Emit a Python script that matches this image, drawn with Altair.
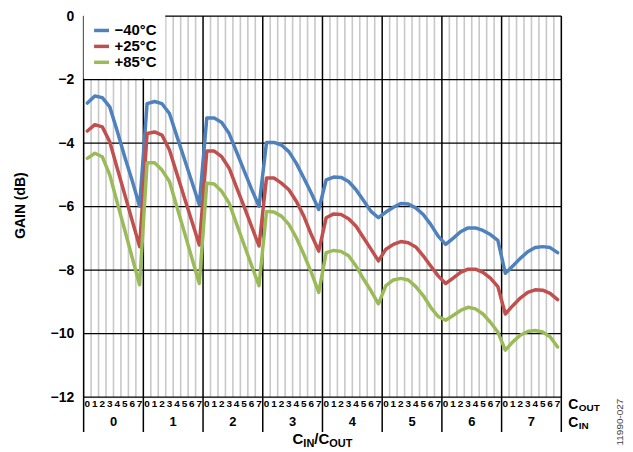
import altair as alt
import pandas as pd

# ---------------- data ----------------
c_out_labels = ["0", "1", "2", "3", "4", "5", "6", "7"]
c_in_labels = ["0", "1", "2", "3", "4", "5", "6", "7"]
series_names = ["−40°C", "+25°C", "+85°C"]
series_colors = ["#4F81BD", "#C0504D", "#9BBB59"]
y_ticks = [0, -2, -4, -6, -8, -10, -12]

gain_m40 = [
    -2.74, -2.52, -2.57, -2.86, -3.62, -4.43, -5.18, -5.99,
    -2.76, -2.69, -2.76, -3.07, -3.79, -4.50, -5.22, -5.94,
    -3.21, -3.21, -3.35, -3.70, -4.28, -4.87, -5.45, -5.99,
    -3.98, -3.98, -4.06, -4.27, -4.64, -5.10, -5.57, -6.09,
    -5.16, -5.07, -5.08, -5.21, -5.47, -5.81, -6.15, -6.35,
    -6.17, -6.02, -5.90, -5.92, -6.04, -6.25, -6.56, -6.93,
    -7.19, -7.00, -6.79, -6.67, -6.67, -6.75, -6.88, -7.06,
    -8.10, -7.87, -7.63, -7.42, -7.29, -7.26, -7.29, -7.45,
]
gain_p25 = [
    -3.62, -3.42, -3.49, -3.96, -4.79, -5.61, -6.44, -7.26,
    -3.70, -3.65, -3.75, -4.22, -4.97, -5.72, -6.46, -7.21,
    -4.25, -4.25, -4.43, -4.79, -5.40, -6.00, -6.62, -7.24,
    -5.10, -5.10, -5.26, -5.47, -5.83, -6.30, -6.88, -7.40,
    -6.35, -6.23, -6.25, -6.38, -6.62, -6.98, -7.34, -7.71,
    -7.34, -7.19, -7.10, -7.14, -7.27, -7.55, -7.87, -8.18,
    -8.42, -8.25, -8.07, -7.97, -7.97, -8.07, -8.25, -8.52,
    -9.38, -9.12, -8.88, -8.70, -8.62, -8.63, -8.73, -8.93,
]
gain_p85 = [
    -4.48, -4.32, -4.43, -5.00, -5.87, -6.73, -7.60, -8.46,
    -4.62, -4.62, -4.85, -5.21, -6.01, -6.81, -7.62, -8.42,
    -5.26, -5.29, -5.52, -5.89, -6.55, -7.20, -7.85, -8.49,
    -6.15, -6.17, -6.30, -6.56, -6.98, -7.50, -8.07, -8.70,
    -7.45, -7.38, -7.41, -7.55, -7.87, -8.28, -8.65, -9.06,
    -8.49, -8.31, -8.26, -8.31, -8.52, -8.80, -9.17, -9.46,
    -9.58, -9.43, -9.27, -9.17, -9.22, -9.38, -9.64, -9.95,
    -10.52, -10.26, -10.05, -9.93, -9.90, -9.95, -10.10, -10.42,
]

# ---------------- tables ----------------
n_in, n_out = len(c_in_labels), len(c_out_labels)
n = n_in * n_out

rows = []
for name, vals in zip(series_names, [gain_m40, gain_p25, gain_p85]):
    for i, v in enumerate(vals):
        rows.append({"pos": i + 0.5, "gain": v, "series": name, "order": i})
df = pd.DataFrame(rows)

minor_df = pd.DataFrame({"b": [k for k in range(1, n) if k % n_out]})
major_df = pd.DataFrame({"b": list(range(0, n + 1, n_out))})
hgrid_df = pd.DataFrame({"g": y_ticks})
sub_df = pd.DataFrame({"pos": [i + 0.5 for i in range(n)],
                       "t": [c_out_labels[i % n_out] for i in range(n)]})
grp_df = pd.DataFrame({"pos": [g * n_out + n_out / 2 for g in range(n_in)],
                       "t": c_in_labels})

W, H = 480, 383
FONT = "Liberation Sans"

xs = alt.Scale(domain=[0, n], nice=False, zero=False)
ys = alt.Scale(domain=[-12, 0], nice=False, zero=False)

yaxis = alt.Axis(
    values=y_ticks, grid=False, domain=False, ticks=False,
    labelFont=FONT, labelFontWeight="bold", labelFontSize=14, labelPadding=10,
    labelColor="black",
    labelExpr="datum.value < 0 ? '−' + abs(datum.value) : '' + datum.value",
    title="GAIN (dB)", titleFont=FONT, titleFontSize=14, titleFontWeight="bold",
    titleColor="black", titleAngle=270, titleX=-63, titleY=190,
    titleBaseline="middle", titleAlign="center",
)

minor_rules = alt.Chart(minor_df).mark_rule(color="#C8C8C8", strokeWidth=1.6).encode(
    x=alt.X("b:Q", scale=xs, axis=None))

hgrid = alt.Chart(hgrid_df).mark_rule(color="black", strokeWidth=1.3).encode(
    y=alt.Y("g:Q", scale=ys, axis=yaxis))

major_rules = alt.Chart(major_df).mark_rule(color="black", strokeWidth=1.5).encode(
    x=alt.X("b:Q", scale=xs, axis=None),
    y=alt.value(0), y2=alt.value(418))

lines = alt.Chart(df).mark_line(strokeWidth=3.5, strokeJoin="round", strokeCap="round").encode(
    x=alt.X("pos:Q", scale=xs, axis=None),
    y=alt.Y("gain:Q", scale=ys, axis=yaxis),
    color=alt.Color("series:N", scale=alt.Scale(domain=series_names, range=series_colors),
                    legend=alt.Legend(
                        title=None, orient="none", legendX=0, legendY=-1,
                        direction="vertical", fillColor="white", padding=8,
                        symbolType="M-1.5,0H1.5", symbolStrokeWidth=3.5, symbolSize=100,
                        symbolOffset=2.5,
                        labelFont=FONT, labelFontSize=15, labelFontWeight="bold",
                        labelColor="black", labelOffset=5.5, rowPadding=-1.5)),
    order="order:Q",
)

sub_text = alt.Chart(sub_df).mark_text(font=FONT, fontWeight="bold", fontSize=10,
                                       baseline="middle", align="center", color="black").encode(
    x=alt.X("pos:Q", scale=xs, axis=None), y=alt.value(390), text="t:N")

grp_text = alt.Chart(grp_df).mark_text(font=FONT, fontWeight="bold", fontSize=13,
                                       baseline="middle", align="center", color="black").encode(
    x=alt.X("pos:Q", scale=xs, axis=None), y=alt.value(408), text="t:N")


def label(txt, x, y, size, angle=0, weight="bold", color="black", align="left",
          baseline="alphabetic"):
    return alt.Chart(pd.DataFrame({"t": [txt]})).mark_text(
        font=FONT, fontWeight=weight, fontSize=size, angle=angle, color=color,
        align=align, baseline=baseline).encode(
        x=alt.value(x), y=alt.value(y), text="t:N")


annots = [
    label("C", 487, 395, 14), label("OUT", 497.5, 396.5, 10),
    label("C", 487, 413, 14), label("IN", 497.5, 414.5, 10),
    label("C", 210, 430.5, 15), label("IN", 220.8, 433.5, 11),
    label("/", 231.8, 430.5, 15), label("C", 236, 430.5, 15), label("OUT", 246.8, 433.5, 11),
    label("11990-027", 539, 408, 10, angle=270, weight="normal", color="#404040",
          align="center", baseline="middle"),
]

chart = alt.layer(minor_rules, hgrid, major_rules, lines, sub_text, grp_text, *annots).properties(
    width=W, height=H,
    padding={"left": 76, "top": 7, "right": 64, "bottom": 52},
    autosize=alt.AutoSizeParams(type="none"),
).configure_view(stroke=None).configure(background="white")

chart.save("out.html", embed_options={"renderer": "svg", "actions": False})
